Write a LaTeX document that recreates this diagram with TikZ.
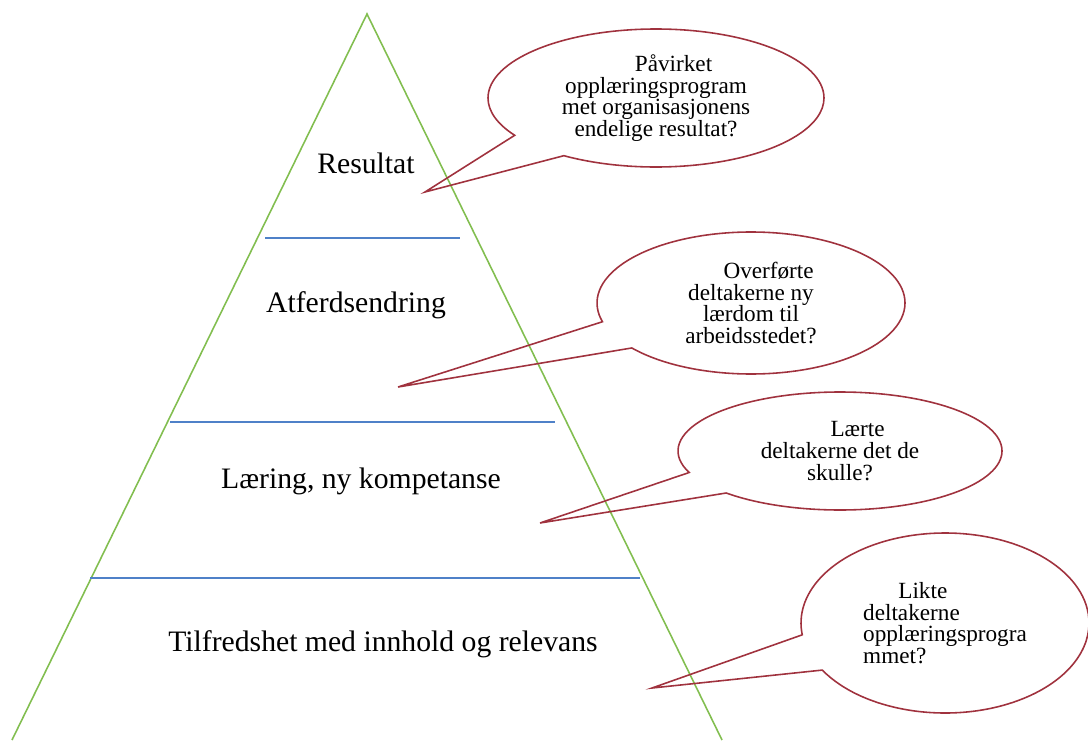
\documentclass[tikz,border=0pt]{standalone}
\usepackage{fontspec}
\setmainfont{Liberation Serif}
\usepackage{tikz}
\usetikzlibrary{shapes.callouts}
\definecolor{pyramidgreen}{RGB}{130,190,80}
\definecolor{levelblue}{RGB}{79,129,200}
\definecolor{bubblered}{RGB}{160,50,62}
\newcommand{\pxu}{0.02cm}

\begin{document}
\begin{tikzpicture}[x=0.02cm,y=-0.02cm,
  level/.style={font=\fontsize{16.9}{20}\selectfont,anchor=base},
  question/.style={ellipse callout,draw=bubblered,line width=0.9pt,
    font=\fontsize{13.2}{12.35}\selectfont,align=center,inner sep=0pt,
    callout pointer arc=24},
  divider/.style={levelblue,line width=1.1pt}]
  \useasboundingbox (0,0) rectangle (1088,740);
  % --- pyramid outline (base runs off the page) ---
  \coordinate (apex) at (367,14);
  \coordinate (baseL) at (12,740);
  \coordinate (baseR) at (722,740);
  \draw[pyramidgreen,line width=0.9pt] (baseL) -- (apex) -- (baseR);
  % --- level dividers ---
  \draw[divider] (265,238) -- (460,238);
  \draw[divider] (170,422) -- (555,422);
  \draw[divider] (90,578) -- (640,578);
  % --- level labels ---
  \node[level] (lvResultat) at (366,173) {Resultat};
  \node[level] (lvAtferd)   at (356,312) {Atferdsendring};
  \node[level] (lvLaering)  at (361,488) {Læring, ny kompetanse};
  \node[level] (lvTilfreds) at (383,651) {Tilfredshet med innhold og relevans};
  % --- question bubbles ---
  \node[question,minimum width={336*\pxu},minimum height={138*\pxu},
        callout absolute pointer={(425,192)}] (qResultat) at (656,98)
       {\hspace*{20pt}Påvirket\\opplæringsprogram\\met organisasjonens\\endelige resultat?};
  \node[question,minimum width={308*\pxu},minimum height={142*\pxu},
        callout absolute pointer={(398,387)}] (qAtferd) at (751,303)
       {\hspace*{20pt}Overførte\\deltakerne ny\\lærdom til\\arbeidsstedet?};
  \node[question,minimum width={324*\pxu},minimum height={118*\pxu},
        callout absolute pointer={(540,523)}] (qLaering) at (840,451)
       {\hspace*{20pt}Lærte\\deltakerne det de\\skulle?};
  \node[question,align=left,minimum width={288*\pxu},minimum height={180*\pxu},
        callout absolute pointer={(652,688)}] (qTilfreds) at (945,623)
       {\hspace*{20pt}Likte\\deltakerne\\opplæringsprogra\\mmet?};
\end{tikzpicture}
\end{document}
